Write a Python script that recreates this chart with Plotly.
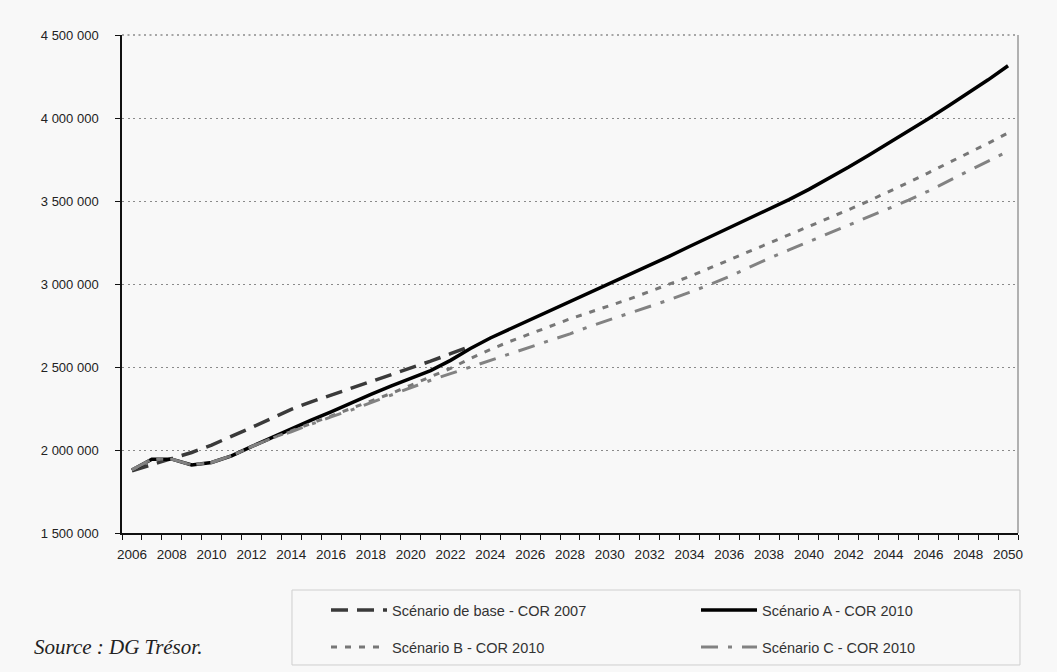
import plotly.graph_objects as go

# Years on the category axis
years = list(range(2006, 2051))
base_years = list(range(2006, 2024))

# Scénario de base - COR 2007 (stops in 2023)
base_2007 = [1875000, 1910000, 1945000, 1985000, 2030000, 2080000, 2135000, 2190000,
             2245000, 2290000, 2330000, 2370000, 2410000, 2450000, 2490000, 2535000,
             2580000, 2625000]

# Scénario A - COR 2010
scen_a = [1880000, 1945000, 1945000, 1910000, 1925000, 1965000, 2020000, 2075000,
          2125000, 2180000, 2230000, 2285000, 2335000, 2385000, 2430000, 2478000,
          2540000, 2612000, 2675000, 2730000, 2785000, 2840000, 2893000, 2946000,
          3000000, 3055000, 3110000, 3168000, 3226000, 3283000, 3338000, 3393000,
          3450000, 3508000, 3570000, 3636000, 3705000, 3776000, 3848000, 3921000,
          3996000, 4072000, 4150000, 4230000, 4315000]

# Scénario B - COR 2010
scen_b = [1880000, 1945000, 1945000, 1910000, 1925000, 1965000, 2020000, 2070000,
          2115000, 2160000, 2205000, 2250000, 2295000, 2340000, 2390000, 2440000,
          2492000, 2552000, 2606000, 2655000, 2700000, 2745000, 2790000, 2830000,
          2870000, 2910000, 2955000, 3000000, 3045000, 3095000, 3145000, 3195000,
          3245000, 3295000, 3345000, 3395000, 3448000, 3500000, 3555000, 3612000,
          3670000, 3728000, 3788000, 3848000, 3910000]

# Scénario C - COR 2010
scen_c = [1880000, 1945000, 1945000, 1910000, 1925000, 1965000, 2020000, 2070000,
          2110000, 2155000, 2200000, 2240000, 2285000, 2330000, 2375000, 2420000,
          2460000, 2500000, 2540000, 2580000, 2620000, 2660000, 2700000, 2745000,
          2785000, 2825000, 2865000, 2905000, 2950000, 2995000, 3045000, 3100000,
          3155000, 3205000, 3255000, 3305000, 3355000, 3405000, 3455000, 3505000,
          3560000, 3620000, 3680000, 3740000, 3800000]

# Axis ticks
y_ticks = [1500000, 2000000, 2500000, 3000000, 3500000, 4000000, 4500000]
y_tick_labels = ["1 500 000", "2 000 000", "2 500 000", "3 000 000",
                 "3 500 000", "4 000 000", "4 500 000"]
x_label_years = years[::2]
x_label_text = [str(y) for y in x_label_years]

BG = "#f8f8f8"
FONT = "Liberation Sans, Arial, sans-serif"

fig = go.Figure()

fig.add_trace(go.Scatter(
    x=base_years, y=base_2007, mode="lines", name="Scénario de base - COR 2007",
    line=dict(color="#3a3a3a", width=3.5, dash="17px,9px"), legend="legend"))
fig.add_trace(go.Scatter(
    x=years, y=scen_a, mode="lines", name="Scénario A - COR 2010",
    line=dict(color="#000000", width=3.5), legend="legend2"))
fig.add_trace(go.Scatter(
    x=years, y=scen_b, mode="lines", name="Scénario B - COR 2010",
    line=dict(color="#777777", width=3, dash="6px,8px"), legend="legend3"))
fig.add_trace(go.Scatter(
    x=years, y=scen_c, mode="lines", name="Scénario C - COR 2010",
    line=dict(color="#828282", width=3, dash="17px,10px,4px,10px"), legend="legend4"))

# Category boundaries carry the small tick marks
boundaries = [y - 0.5 for y in years] + [years[-1] + 0.5]

fig.update_xaxes(
    range=[years[0] - 0.5, years[-1] + 0.5],
    tickmode="array", tickvals=x_label_years, ticktext=x_label_text,
    ticks="", ticklabelstandoff=8,
    showgrid=False, zeroline=False,
    showline=True, linecolor="#111111", linewidth=1.5,
    tickfont=dict(family=FONT, size=13.5, color="#222222"),
    minor=dict(tickmode="array", tickvals=boundaries, ticks="outside",
               ticklen=5, tickcolor="#111111", tickwidth=1.2, showgrid=False),
)
fig.update_yaxes(
    range=[y_ticks[0], y_ticks[-1]],
    tickmode="array", tickvals=y_ticks, ticktext=y_tick_labels,
    ticks="outside", ticklen=5, tickcolor="#111111", tickwidth=1.2,
    ticklabelstandoff=14,
    showgrid=True, gridcolor="#8a8a8a", gridwidth=1.3, griddash="2px,3.5px",
    zeroline=False,
    showline=True, linecolor="#111111", linewidth=1.5,
    tickfont=dict(family=FONT, size=13, color="#222222"),
)

# Top dotted rule, right border of the plot area and the legend frame
fig.add_shape(type="line", xref="paper", yref="paper", x0=0, x1=1, y0=1, y1=1,
              line=dict(color="#8a8a8a", width=1.3, dash="2px,3.5px"))
fig.add_shape(type="line", xref="paper", yref="paper", x0=1, x1=1, y0=0, y1=1,
              line=dict(color="#9a9a9a", width=1.5))
fig.add_shape(type="rect", xref="paper", yref="paper",
              x0=0.1897, x1=1.0022, y0=-0.265, y1=-0.1145,
              line=dict(color="#cfcfcf", width=1), fillcolor="rgba(0,0,0,0)")

fig.add_annotation(text="<i>Source : DG Trésor.</i>", xref="paper", yref="paper",
                   x=-0.101, y=-0.2289, xanchor="left", yanchor="middle",
                   showarrow=False,
                   font=dict(family="Liberation Serif, Times New Roman, serif",
                             size=21, color="#222222"))

legend_common = dict(
    orientation="h", xanchor="left", yanchor="middle",
    bgcolor="rgba(0,0,0,0)", borderwidth=0, itemwidth=56,
    font=dict(family=FONT, size=14.5, color="#333333"),
    itemclick=False, itemdoubleclick=False,
)

col1_x = (326 - 122) / 896
col2_x = (696 - 122) / 896
row1_y = (533 - 610) / 498
row2_y = (533 - 647) / 498

fig.update_layout(
    width=1057, height=672,
    margin=dict(l=122, r=39, t=35, b=139, autoexpand=False),
    paper_bgcolor=BG, plot_bgcolor=BG,
    showlegend=True,
    legend=dict(x=col1_x, y=row1_y, **legend_common),
    legend2=dict(x=col2_x, y=row1_y, **legend_common),
    legend3=dict(x=col1_x, y=row2_y, **legend_common),
    legend4=dict(x=col2_x, y=row2_y, **legend_common),
)

fig.write_html("out.html")
